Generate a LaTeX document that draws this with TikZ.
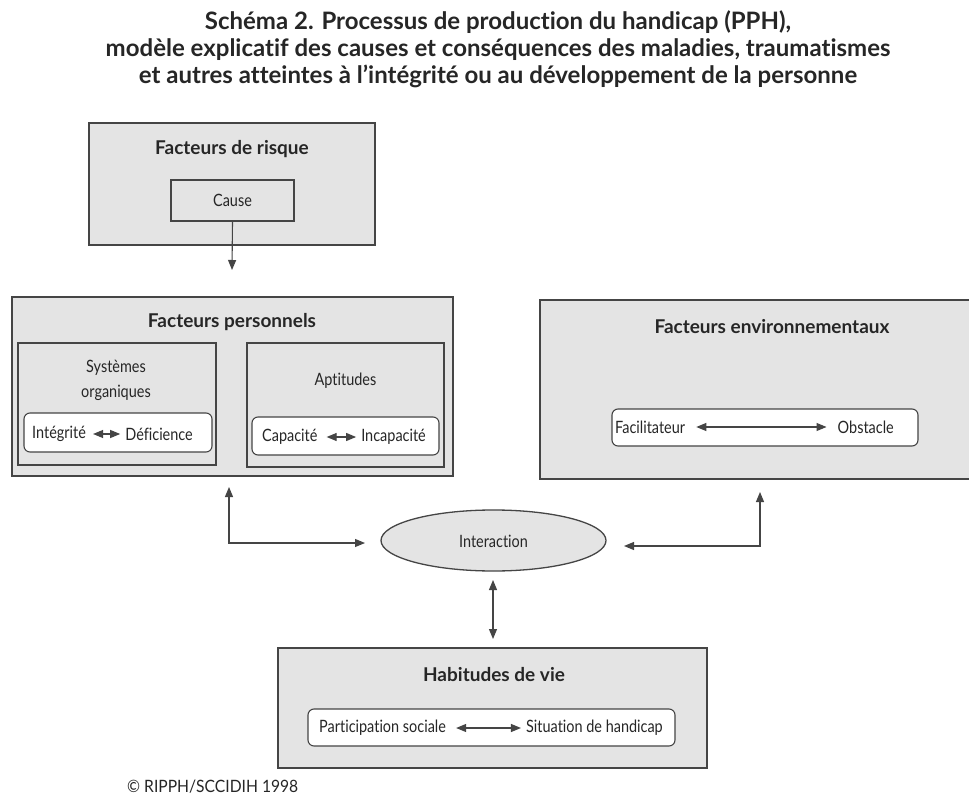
\documentclass[tikz,border=0pt]{standalone}
\usepackage{fontspec}
\setmainfont{Lato}
\newfontfamily\tfont{Lato}[Ligatures=NoCommon]
\newfontfamily\hfont{Lato}[Ligatures=NoCommon]
\newfontfamily\rfont{Lato}[FakeStretch=0.85,Ligatures=NoCommon]
\newfontfamily\cfont{Lato}[FakeStretch=0.92]
\usetikzlibrary{arrows.meta,shapes.geometric}
\definecolor{ln}{HTML}{454545}
\definecolor{fillg}{HTML}{E4E4E4}
\definecolor{tx}{HTML}{262626}
\begin{document}
\begin{tikzpicture}[x=1pt,y=-1pt,
  outer/.style={draw=ln, line width=1.3pt, fill=fillg, inner sep=0pt},
  innerbox/.style={draw=ln, line width=1.1pt, fill=fillg, inner sep=0pt},
  pill/.style={draw=ln, line width=1.1pt, fill=white, rounded corners=6pt, inner sep=0pt},
  head/.style={font=\hfont\bfseries\fontsize{19}{22}\selectfont, text=tx, inner sep=0pt},
  lbl/.style={font=\rfont\fontsize{17}{25}\selectfont, text=tx, inner sep=0pt},
  arr/.style={draw=ln, line width=1.1pt, -{Triangle[length=10pt,width=8pt]}},
  darr/.style={draw=ln, line width=1.1pt, {Triangle[length=10pt,width=8pt]}-{Triangle[length=10pt,width=8pt]}},
]
\useasboundingbox (0,0) rectangle (969,802);
\fill[white] (0,0) rectangle (969,802);
\clip (0,0) rectangle (969,802);

% title
\node[font=\tfont\bfseries\fontsize{24}{27}\selectfont, text=tx, align=center] (title) at (498,49)
 {Schéma 2. Processus de production du handicap (PPH),\\
  modèle explicatif des causes et conséquences des maladies, traumatismes\\
  et autres atteintes à l’intégrité ou au développement de la personne};

% Facteurs de risque
\node[outer, minimum width=286pt, minimum height=122pt] (risk) at (232,184) {};
\node[head] (riskT) at (232,149) {Facteurs de risque};
\node[innerbox, minimum width=123pt, minimum height=41pt] (cause) at (232.5,200.5) {};
\node[lbl] (causeT) at (232.5,200.5) {Cause};

% Facteurs personnels
\node[outer, minimum width=441pt, minimum height=179pt] (fp) at (232.5,386.5) {};
\node[head] (fpT) at (232,322) {Facteurs personnels};
\node[innerbox, minimum width=198pt, minimum height=122pt] (sys) at (117,404) {};
\node[lbl, align=center] (sysT) at (116,380) {Systèmes\\organiques};
\node[innerbox, minimum width=197pt, minimum height=124pt] (apt) at (345.5,405) {};
\node[lbl] (aptT) at (345.5,381) {Aptitudes};
\node[pill, minimum width=188pt, minimum height=39pt] (integ) at (118,432.5) {};
\node[lbl, anchor=west] (integA) at (32,434) {Intégrité};
\node[lbl, anchor=east] (integB) at (193,434) {Déficience};
\draw[darr] ([xshift=7pt]integA.east) -- ([xshift=-5pt]integB.west);
\node[pill, minimum width=187pt, minimum height=38pt] (capac) at (345.5,436) {};
\node[lbl, anchor=west] (capA) at (262,437) {Capacité};
\node[lbl, anchor=east] (capB) at (426,437) {Incapacité};
\draw[darr] ([xshift=9pt]capA.east) -- ([xshift=-5pt]capB.west);

% Facteurs environnementaux
\node[outer, minimum width=464pt, minimum height=179pt] (fe) at (772,389.5) {};
\node[head] (feT) at (772,327) {Facteurs environnementaux};
\node[pill, minimum width=306pt, minimum height=37pt] (facil) at (765,427.5) {};
\node[lbl, anchor=west] (facA) at (615,427) {Facilitateur};
\node[lbl, anchor=east] (facB) at (894,427) {Obstacle};
\draw[darr] ([xshift=11pt]facA.east) -- ([xshift=-11pt]facB.west);

% Interaction
\node[ellipse, draw=ln, line width=1.3pt, fill=fillg, minimum width=225pt, minimum height=61pt, inner sep=0pt] (inter) at (493.5,540.5) {};
\node[lbl] (interT) at (493.5,541) {Interaction};

% Habitudes de vie
\node[outer, minimum width=429pt, minimum height=120pt] (hv) at (492.5,708) {};
\node[head] (hvT) at (494,675) {Habitudes de vie};
\node[pill, minimum width=367pt, minimum height=37pt] (partic) at (491.5,727.5) {};
\node[lbl, anchor=west] (parA) at (319,728) {Participation sociale};
\node[lbl, anchor=east] (parB) at (663,728) {Situation de handicap};
\draw[darr] ([xshift=10pt]parA.east) -- ([xshift=-5pt]parB.west);

% copyright
\node[font=\cfont\fontsize{17}{20}\selectfont, text=tx, anchor=west, inner sep=0pt] (copy) at (127,787) {© RIPPH/SCCIDIH 1998};

% connectors
\coordinate (c1) at (232,270);
\draw[arr] (cause.south) -- (c1);
\coordinate (p1) at (229,487);
\coordinate (p2) at (365,543);
\draw[darr] (p1) |- (p2);
\coordinate (e1) at (760,492);
\coordinate (e2) at (624,546);
\draw[darr] (e1) |- (e2);
\coordinate (v1) at (493,580);
\coordinate (v2) at (493,639);
\draw[darr] (v1) -- (v2);
\end{tikzpicture}
\end{document}
